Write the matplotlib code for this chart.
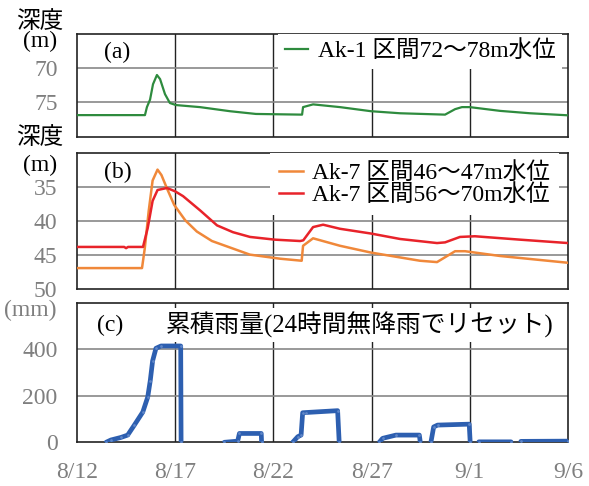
import matplotlib
matplotlib.use("Agg")
import matplotlib.pyplot as plt
import numpy as np

plt.rcParams['font.family'] = ['Liberation Serif', 'Noto Sans CJK JP']
plt.rcParams['font.size'] = 17

# x axis: days elapsed since 8/12
tick_days = [0, 5, 10, 15, 20, 25]
tick_labels = ['8/12', '8/17', '8/22', '8/27', '9/1', '9/6']

# (a) Ak-1 water level, depth in m
ak1_day = [0.0, 3.46, 3.56, 3.72, 3.87, 4.07, 4.23, 4.48, 4.73, 5.04, 6.26, 7.79,
           9.11, 11.46, 11.51, 12.02, 13.39, 14.97, 16.45, 18.74, 19.25, 19.6,
           20.0, 21.54, 23.07, 25.0]
ak1_depth = [76.87, 76.87, 75.7, 74.6, 72.35, 71.0, 71.6, 73.8, 75.1, 75.4, 75.7, 76.3,
             76.7, 76.8, 75.7, 75.3, 75.7, 76.3, 76.6, 76.8, 76.0, 75.7,
             75.7, 76.25, 76.6, 76.9]

# (b) Ak-7 water levels, depth in m
ak7a_day = [0.0, 3.31, 3.45, 3.65, 3.85, 4.1, 4.3, 4.6, 4.95, 5.51, 6.1, 6.87, 8.8,
            10.34, 11.44, 11.51, 12.02, 13.39, 14.97, 17.46, 18.33, 19.25, 19.76,
            21.54, 25.0]
ak7a_depth = [46.88, 46.88, 44.0, 38.5, 34.0, 32.4, 33.2, 35.3, 37.6, 39.85, 41.5, 42.9, 44.9,
              45.5, 45.8, 43.6, 42.5, 43.6, 44.6, 45.8, 46.0, 44.4, 44.4,
              45.1, 46.1]
ak7b_day = [0.0, 2.4, 2.5, 2.6, 3.36, 3.6, 3.85, 4.1, 4.58, 5.0, 5.4, 6.27, 7.13,
            7.94, 8.81, 10.08, 11.36, 11.52, 12.02, 12.53, 13.39, 14.97, 16.45,
            18.33, 18.74, 19.5, 20.26, 22.56, 25.0]
ak7b_depth = [43.77, 43.77, 43.95, 43.77, 43.77, 41.0, 37.0, 35.4, 35.1, 35.6, 36.3, 38.4, 40.6,
              41.6, 42.3, 42.7, 42.9, 42.8, 40.85, 40.5, 41.1, 41.8, 42.6,
              43.2, 43.1, 42.3, 42.2, 42.7, 43.2]

# (c) cumulative rainfall (reset after 24 h without rain), mm
rain_day = [1.48, 1.73, 2.24, 2.58, 2.92, 3.35, 3.60, 3.73, 3.85, 4.02, 4.28, 5.28, 5.30, np.nan,
            7.5, 8.18, 8.27, 9.38, 9.40, np.nan,
            10.98, 11.24, 11.41, 11.49, 11.66, 13.27, 13.35, np.nan,
            15.39, 15.56, 16.24, 17.43, 17.48, np.nan,
            18.02, 18.16, 18.36, 19.97, 20.02, np.nan,
            20.46, 22.1, np.nan,
            22.6, 24.98]
rain_mm = [0, 10, 21, 31, 74, 130, 194, 265, 350, 404, 414, 414, 0, np.nan,
           0, 5, 38, 38, 0, np.nan,
           0, 24, 31, 127, 128, 136, 0, np.nan,
           0, 17, 31, 31, 0, np.nan,
           0, 66, 74, 78, 0, np.nan,
           2, 2, np.nan,
           4, 5]

grey_txt = '#7f7f7f'
W, H = 589, 486
fig = plt.figure(figsize=(W / 100, H / 100), dpi=100)


def box(x0, y0, x1, y1):
    return [x0 / W, 1 - y1 / H, (x1 - x0) / W, (y1 - y0) / H]


ax_a = fig.add_axes(box(77, 34, 568, 136.5))
ax_b = fig.add_axes(box(77, 153.3, 568, 289.3))
ax_c = fig.add_axes(box(77, 302.7, 568, 442.3))


def style(ax, hgrid, yticks, yticklabels):
    ax.set_xlim(0, 25)
    ax.set_xticks(tick_days)
    for s in ax.spines.values():
        s.set_color('#222222')
        s.set_linewidth(1.2)
    for d in tick_days[1:-1]:
        ax.axvline(d, color='#222222', lw=1.0, zorder=1)
    for v in hgrid:
        ax.axhline(v, color='#888888', lw=1.2, zorder=1)
    ax.set_yticks(yticks)
    ax.set_yticklabels(yticklabels)
    ax.tick_params(length=0, labelcolor=grey_txt, labelsize=17, pad=14)


legend_kw = dict(loc='upper right', borderaxespad=0, frameon=True, fancybox=False,
                 edgecolor='none', facecolor='white', framealpha=1,
                 handlelength=1.0, handletextpad=0.4, fontsize=17)

# panel (a)
ax_a.plot(ak1_day, ak1_depth, color='#2e8b3e', lw=1.6, zorder=3,
          label='Ak-1 区間72～78m水位')
ax_a.set_ylim(80, 65)
style(ax_a, [70, 75], [70, 75], ['70', '75'])
ax_a.set_xticklabels([])
ax_a.text(0.055, 0.82, '(a)', transform=ax_a.transAxes, fontsize=17, va='center')
leg_a = ax_a.legend(bbox_to_anchor=(0.988, 1), borderpad=0.28, **legend_kw)
leg_a.set_zorder(5)

# panel (b)
ax_b.plot(ak7a_day, ak7a_depth, color='#f0883a', lw=1.8, zorder=3,
          label='Ak-7 区間46～47m水位')
ax_b.plot(ak7b_day, ak7b_depth, color='#e8232a', lw=1.8, zorder=3,
          label='Ak-7 区間56～70m水位')
ax_b.set_ylim(50, 30)
style(ax_b, [35, 40, 45], [35, 40, 45, 50], ['35', '40', '45', '50'])
ax_b.set_xticklabels([])
ax_b.text(0.055, 0.86, '(b)', transform=ax_b.transAxes, fontsize=17, va='center')
leg_b = ax_b.legend(bbox_to_anchor=(0.982, 1), borderpad=0.38, labelspacing=0.0,
                    **legend_kw)
leg_b.set_zorder(5)

# panel (c)
ax_c.plot(rain_day, rain_mm, color='#2d5fb0', lw=3.4, zorder=6,
          solid_capstyle='round', solid_joinstyle='round',
          marker='o', ms=2.0, mfc='#5f86c8', mec='none')
ax_c.set_ylim(0, 600)
style(ax_c, [200, 400], [0, 200, 400], ['0', '200', '400'])
ax_c.set_xticklabels(tick_labels)
ax_c.text(0.04, 0.84, '(c)', transform=ax_c.transAxes, fontsize=17, va='center')
ax_c.text(0.18, 0.84, '累積雨量(24時間無降雨でリセット)', transform=ax_c.transAxes,
          fontsize=17.8, va='center', ha='left', zorder=5,
          bbox=dict(facecolor='white', edgecolor='none', pad=2.5))

# axis unit labels
for y_deep, y_unit in [(21.7, 41), (138, 165)]:
    fig.text(39.5 / W, 1 - y_deep / H, '深度', ha='center', va='center', fontsize=17)
    fig.text(40 / W, 1 - y_unit / H, '(m)', ha='center', va='center', fontsize=17)
fig.text(30 / W, 1 - 310 / H, '(mm)', ha='center', va='center', fontsize=17,
         color=grey_txt)

fig.savefig('out.png', dpi=100)
